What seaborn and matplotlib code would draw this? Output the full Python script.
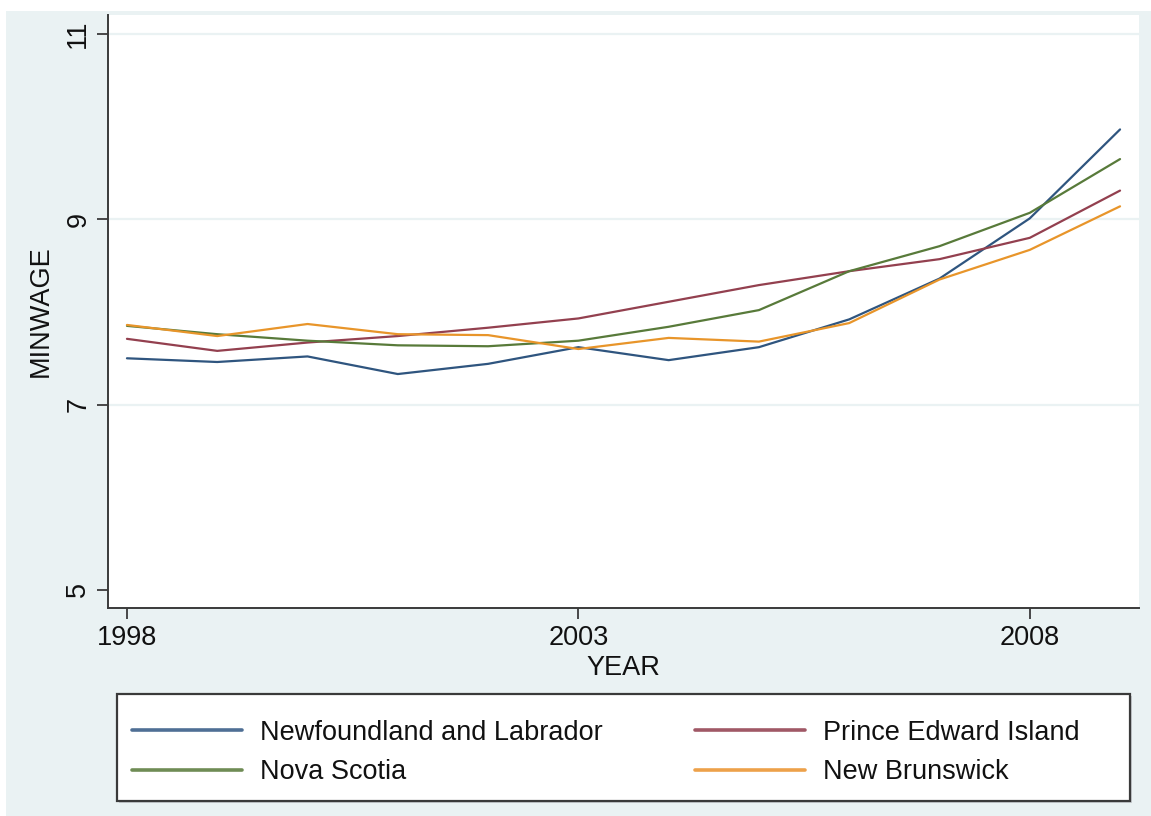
import matplotlib
matplotlib.use("Agg")
import matplotlib.pyplot as plt
from matplotlib.patches import Rectangle
from matplotlib.lines import Line2D
import numpy as np
import pandas as pd
import seaborn as sns

# Minimum wage by province, 1998-2009
years = [1998, 1999, 2000, 2001, 2002, 2003, 2004, 2005, 2006, 2007, 2008, 2009]
newfoundland = [7.50, 7.46, 7.52, 7.33, 7.44, 7.62, 7.48, 7.62, 7.92, 8.36, 9.01, 9.97]
prince_edward = [7.71, 7.58, 7.67, 7.74, 7.83, 7.93, 8.11, 8.29, 8.44, 8.57, 8.80, 9.31]
nova_scotia = [7.85, 7.76, 7.69, 7.64, 7.63, 7.69, 7.84, 8.02, 8.44, 8.71, 9.07, 9.65]
new_brunswick = [7.86, 7.74, 7.87, 7.76, 7.75, 7.60, 7.72, 7.68, 7.88, 8.35, 8.67, 9.14]

provinces = ["Newfoundland and Labrador", "Prince Edward Island",
             "Nova Scotia", "New Brunswick"]
series = [newfoundland, prince_edward, nova_scotia, new_brunswick]
colors = ["#2f557f", "#93404f", "#587a3a", "#e8952a"]
legend_colors = ["#4f6f95", "#a05866", "#6f8c55", "#eda14a"]

x_ticks = [1998, 2003, 2008]
y_ticks = [5, 7, 9, 11]

df = pd.DataFrame({
    "YEAR": np.tile(years, len(provinces)),
    "MINWAGE": np.concatenate(series),
    "province": np.repeat(provinces, len(years)),
})

sns.set_style("white")
plt.rcParams["font.family"] = ["Liberation Sans", "DejaVu Sans"]

W, H = 1151, 816
BG = "#eaf2f3"
fig = plt.figure(figsize=(W / 100, H / 100), dpi=100, facecolor=BG)

# thin white margin along the top and left edges
fig.patches.append(Rectangle((0, 1 - 11 / H), 1, 11 / H, transform=fig.transFigure,
                             facecolor="white", edgecolor="none", zorder=0))
fig.patches.append(Rectangle((0, 0), 6 / W, 1, transform=fig.transFigure,
                             facecolor="white", edgecolor="none", zorder=0))

left, right, top, bottom = 108, 1139, 15, 608
ax = fig.add_axes([left / W, 1 - bottom / H, (right - left) / W, (bottom - top) / H])
ax.set_facecolor("white")

palette = dict(zip(provinces, colors))
sns.lineplot(data=df, x="YEAR", y="MINWAGE", hue="province", hue_order=provinces,
             palette=palette, linewidth=1.6, legend=False, ax=ax)

ax.set_xlim(1997.79, 2009.21)
ax.set_ylim(4.805, 11.205)
ax.set_xticks(x_ticks)
ax.set_yticks(y_ticks)
ax.set_xticklabels([str(t) for t in x_ticks])
ax.set_yticklabels([str(t) for t in y_ticks], rotation=90, va="center")

# horizontal grid lines at interior labels
for yv in [7, 9, 11]:
    ax.axhline(yv, color=BG, lw=1.6, zorder=0)

for s in ["top", "right"]:
    ax.spines[s].set_visible(False)
for s in ["left", "bottom"]:
    ax.spines[s].set_color("#3a3a3a")
    ax.spines[s].set_linewidth(1.4)

fs = 19.5
ax.tick_params(axis="both", direction="out", length=8, width=1.3, color="#3a3a3a",
               labelsize=fs, labelcolor="#111111", left=True, bottom=True)
ax.tick_params(axis="y", pad=4)
ax.tick_params(axis="x", pad=4)
ax.set_xlabel("YEAR", fontsize=fs, color="#111111", labelpad=3)
ax.set_ylabel("MINWAGE", fontsize=fs, color="#111111", labelpad=8)

# legend box with two columns
bx0, bx1, by0, by1 = 117, 1130, 694, 801
fig.patches.append(Rectangle((bx0 / W + 2 / W, 1 - by1 / H - 2 / H), (bx1 - bx0) / W,
                             (by1 - by0) / H, transform=fig.transFigure,
                             facecolor="#c8cdd0", edgecolor="none", zorder=1))
fig.patches.append(Rectangle((bx0 / W, 1 - by1 / H), (bx1 - bx0) / W, (by1 - by0) / H,
                             transform=fig.transFigure, facecolor="white",
                             edgecolor="#3a3a3a", linewidth=1.6, zorder=2))

order = [0, 2, 1, 3]
handles = [Line2D([], [], color=legend_colors[i], lw=2.6) for i in order]
labels = [provinces[i] for i in order]
leg = fig.legend(handles, labels, ncol=2, loc="center left",
                 bbox_to_anchor=(132 / W, 1 - 752.5 / H), frameon=False,
                 fontsize=fs, handlelength=110 / 27, handletextpad=0.66,
                 columnspacing=3.4, labelspacing=0.5, borderpad=0,
                 borderaxespad=0)
leg.set_zorder(3)
for t in leg.get_texts():
    t.set_color("#111111")

fig.savefig("out.png", dpi=100, facecolor=BG)
